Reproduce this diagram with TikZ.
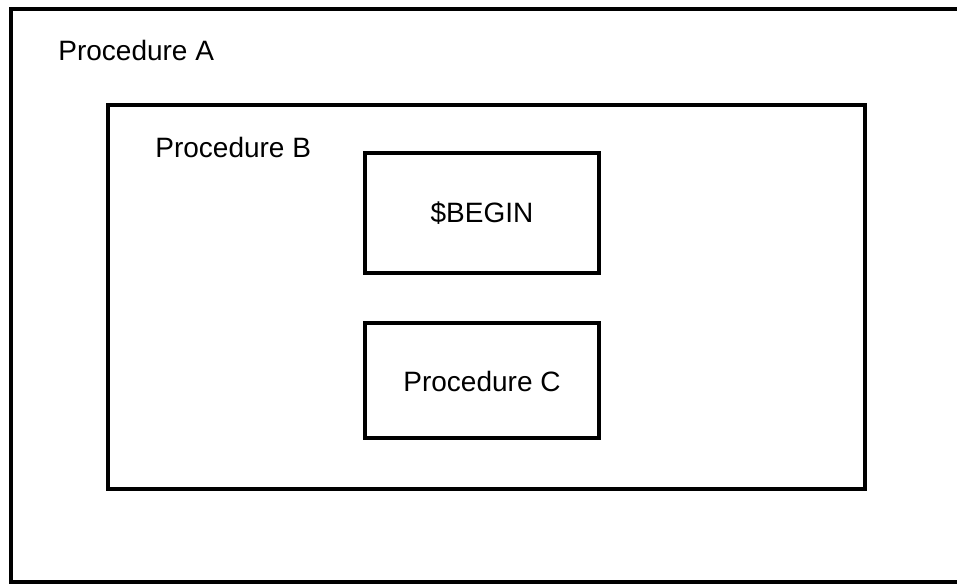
\documentclass[tikz,border=0pt]{standalone}
\usepackage{fontspec}
\setmainfont{Liberation Sans}
\begin{document}
\begin{tikzpicture}[x=0.5pt,y=-0.5pt,
  frame/.style={draw=black,line width=1.9pt,line join=miter},
  label/.style={font=\fontsize{14}{17}\selectfont,inner sep=0pt}]
\useasboundingbox (0,0) rectangle (957,585);
\clip (0,0) rectangle (957,585);
% procedure A, running off the right edge
\draw[frame] (11,9) rectangle (1000,582);
\node[label,anchor=base west] (procA) at (58,60) {Procedure A};
% procedure B
\draw[frame] (108,105) rectangle (865,489);
\node[label,anchor=base west] (procB) at (155,157) {Procedure B};
% the two inner blocks
\draw[frame] (365,153) rectangle (599,273);
\node[label] (begin) at (482,213) {\$BEGIN};
\draw[frame] (365,323) rectangle (599,438);
\node[label] (procC) at (482,381) {Procedure C};
\end{tikzpicture}
\end{document}
